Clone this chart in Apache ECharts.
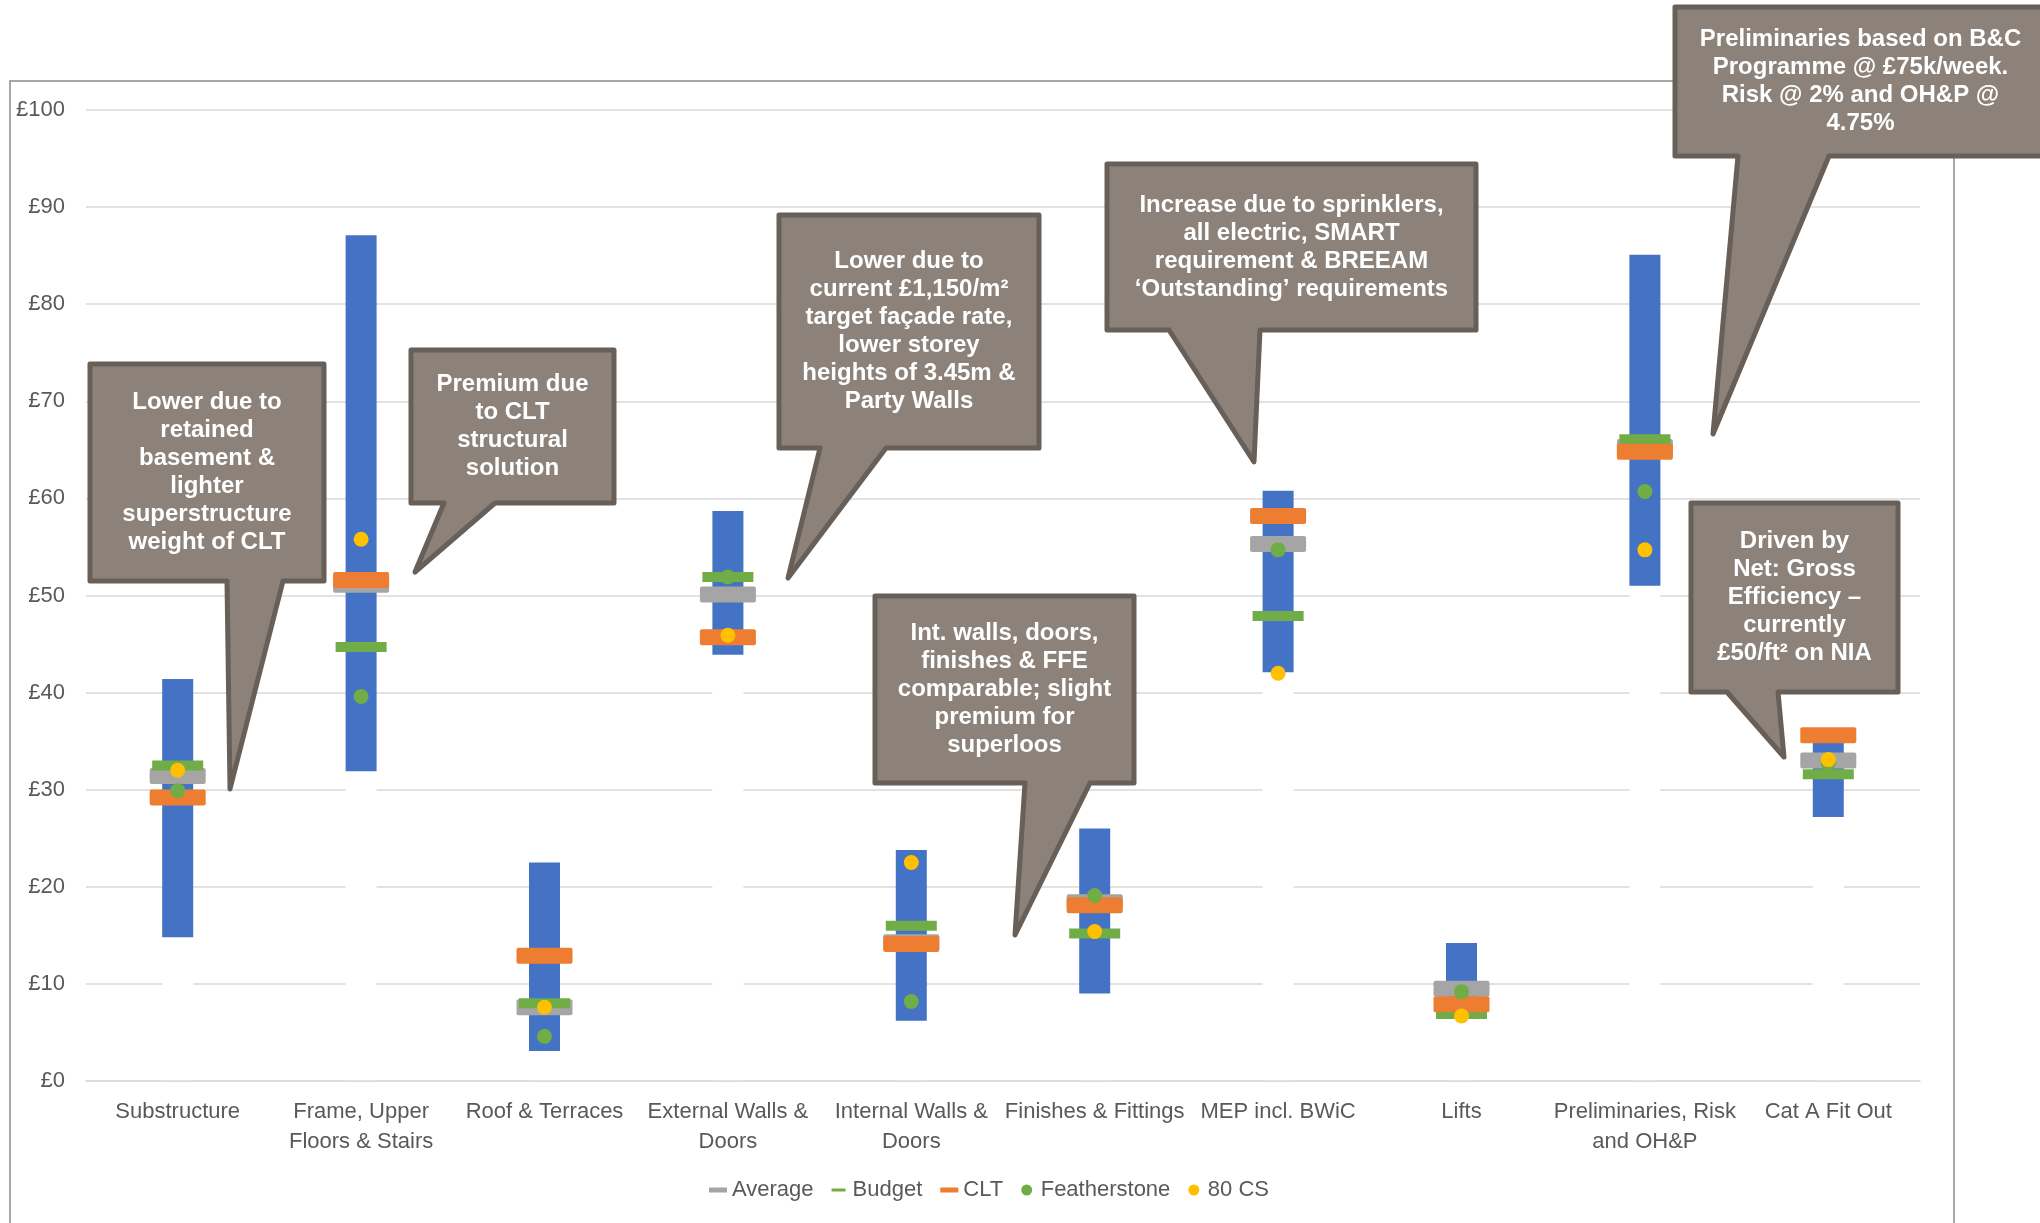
<!DOCTYPE html>
<html>
<head>
<meta charset="utf-8">
<script src="https://cdn.jsdelivr.net/npm/echarts@6/dist/echarts.min.js"></script>
<style>
html, body { margin: 0; padding: 0; background: #fff; }
#cost_chart { width: 2040px; height: 1223px; }
</style>
</head>
<body>
<div id="cost_chart"></div>
<script>
// data (£/ft2)
var categories = ['Substructure', 'Frame, Upper\nFloors & Stairs', 'Roof & Terraces', 'External Walls &\nDoors',
    'Internal Walls &\nDoors', 'Finishes & Fittings', 'MEP incl. BWiC', 'Lifts', 'Preliminaries, Risk\nand OH&P', 'Cat A Fit Out'];
var rangeLow = [14.8, 31.9, 3.1, 43.9, 6.2, 9.0, 42.1, 6.6, 51.0, 27.2];
var rangeHigh = [41.4, 87.1, 22.5, 58.7, 23.8, 26.0, 60.8, 14.2, 85.1, 35.3];
var average = [31.4, 51.1, 7.6, 50.1, 14.3, 18.4, 55.3, 9.5, 65.3, 33.0];
var budget = [32.5, 44.7, 8.0, 51.9, 16.0, 15.2, 47.9, 6.9, 66.1, 31.6];
var clt = [29.2, 51.6, 12.9, 45.7, 14.1, 18.1, 58.2, 7.9, 64.8, 35.6];
var featherstone = [29.9, 39.6, 4.6, 51.9, 8.2, 19.1, 54.7, 9.2, 60.7, 32.7];
var cs80 = [32.0, 55.8, 7.6, 45.9, 22.5, 15.4, 42.0, 6.7, 54.7, 33.1];
var yMin = 0, yMax = 100, yStep = 10;

var FONT = '"Liberation Sans", Arial, sans-serif';
// rounded rect with small corners (echarts' roundRect is too round at this size)
var PILL = 'path://M2,0H54Q56,0 56,2V14Q56,16 54,16H2Q0,16 0,14V2Q0,0 2,0Z';

// callout notes: box [left, top, right, bottom], pointer base [x1, x2] on bottom edge, tip [x, y]
var callouts = [
    { text: 'Lower due to\nretained\nbasement &\nlighter\nsuperstructure\nweight of CLT', box: [90, 364, 324, 581], base: [227, 283], tip: [230, 789] },
    { text: 'Premium due\nto CLT\nstructural\nsolution', box: [411, 350, 614, 503], base: [444, 495], tip: [415, 572] },
    { text: 'Lower due to\ncurrent \u00a31,150/m\u00b2\ntarget fa\u00e7ade rate,\nlower storey\nheights of 3.45m &\nParty Walls', box: [779, 215, 1039, 448], base: [820, 886], tip: [788, 578] },
    { text: 'Increase due to sprinklers,\nall electric, SMART\nrequirement & BREEAM\n\u2018Outstanding\u2019 requirements', box: [1107, 164, 1476, 330], base: [1169, 1260], tip: [1254, 462] },
    { text: 'Int. walls, doors,\nfinishes & FFE\ncomparable; slight\npremium for\nsuperloos', box: [875, 596, 1134, 783], base: [1025, 1090], tip: [1015, 935] },
    { text: 'Preliminaries based on B&C\nProgramme @ \u00a375k/week.\nRisk @ 2% and OH&P @\n4.75%', box: [1675, 7, 2046, 156], base: [1738, 1829], tip: [1713, 434] },
    { text: 'Driven by\nNet: Gross\nEfficiency \u2013\ncurrently\n\u00a350/ft\u00b2 on NIA', box: [1691, 503, 1898, 692], base: [1727, 1778], tip: [1784, 757] }
];

function calloutGraphics() {
    var els = [];
    callouts.forEach(function (c) {
        var l = c.box[0], t = c.box[1], r = c.box[2], b = c.box[3];
        els.push({
            type: 'polygon',
            z: 100,
            shape: { points: [[l, t], [r, t], [r, b], [c.base[1], b], c.tip, [c.base[0], b], [l, b]] },
            style: { fill: '#8C8279', stroke: '#675F58', lineWidth: 5, lineJoin: 'round' }
        });
        els.push({
            type: 'text',
            z: 101,
            style: {
                text: c.text,
                x: (l + r) / 2,
                y: (t + b) / 2,
                fill: '#ffffff',
                font: 'bold 24px ' + FONT,
                align: 'center',
                verticalAlign: 'middle',
                textAlign: 'center',
                textVerticalAlign: 'middle',
                lineHeight: 28
            }
        });
    });
    return els;
}

var cost_chart = echarts.init(document.getElementById('cost_chart'));
function getCostOption() {
    var rangeSize = rangeHigh.map(function (v, i) { return +(v - rangeLow[i]).toFixed(2); });
    return {
        animation: false,
        backgroundColor: '#ffffff',
        grid: {
            left: 86,
            right: 120,
            top: 110,
            bottom: 142
        },
        legend: {
            left: 704,
            top: 1174,
            itemWidth: 18,
            itemHeight: 11,
            itemGap: 18,
            selectedMode: false,
            textStyle: {
                fontFamily: FONT,
                fontSize: 22,
                color: '#595959'
            },
            data: [
                { name: 'Average', icon: PILL },
                { name: 'Budget', icon: 'path://M0,0h0.01v0.01h-0.01z M0,4h14v3h-14z M13.99,10.99h0.01v0.01h-0.01z' },
                { name: 'CLT', icon: PILL },
                { name: 'Featherstone', icon: 'circle' },
                { name: '80 CS', icon: 'circle' }
            ]
        },
        xAxis: {
            type: 'category',
            data: categories,
            z: 10,
            axisTick: { show: false },
            axisLine: { show: true, lineStyle: { color: '#D9D9D9', width: 1.5 } },
            axisLabel: {
                fontFamily: FONT,
                fontSize: 22,
                lineHeight: 30,
                color: '#595959',
                margin: 16,
                interval: 0
            }
        },
        yAxis: {
            type: 'value',
            min: yMin,
            max: yMax,
            interval: yStep,
            axisLine: { show: false },
            axisTick: { show: false },
            axisLabel: {
                formatter: '\u00a3{value}',
                fontFamily: FONT,
                fontSize: 22,
                color: '#595959',
                margin: 21
            },
            splitLine: {
                lineStyle: { color: '#D9D9D9', width: 1.5 }
            }
        },
        series: [
            {
                name: 'base',
                type: 'bar',
                stack: 'range',
                data: rangeLow,
                barWidth: 31,
                silent: true,
                itemStyle: { color: '#ffffff' },
                z: 2
            },
            {
                name: 'range',
                type: 'bar',
                stack: 'range',
                data: rangeSize,
                barWidth: 31,
                itemStyle: { color: '#4472C4' },
                z: 2
            },
            {
                name: 'Average',
                type: 'scatter',
                data: average,
                symbol: PILL,
                symbolSize: [56, 16],
                itemStyle: { color: '#A5A5A5', opacity: 1 },
                z: 3
            },
            {
                name: 'Budget',
                type: 'scatter',
                data: budget,
                symbol: 'rect',
                symbolSize: [51, 10],
                itemStyle: { color: '#70AD47', opacity: 1 },
                z: 4
            },
            {
                name: 'CLT',
                type: 'scatter',
                data: clt,
                symbol: PILL,
                symbolSize: [56, 16],
                itemStyle: { color: '#ED7D31', opacity: 1 },
                z: 5
            },
            {
                name: 'Featherstone',
                type: 'scatter',
                data: featherstone,
                symbol: 'circle',
                symbolSize: 15,
                itemStyle: { color: '#70AD47', opacity: 1 },
                z: 6
            },
            {
                name: '80 CS',
                type: 'scatter',
                data: cs80,
                symbol: 'circle',
                symbolSize: 15,
                itemStyle: { color: '#FFC000', opacity: 1 },
                z: 7
            }
        ],
        graphic: [
            {
                type: 'rect',
                z: 0,
                silent: true,
                shape: { x: 10, y: 81, width: 1944, height: 1200 },
                style: { fill: 'none', stroke: '#8A8A8A', lineWidth: 1.5 }
            }
        ].concat(calloutGraphics())
    };
}

cost_chart.setOption(getCostOption());
window.addEventListener('resize', function () {
    cost_chart.resize();
});
</script>
</body>
</html>
